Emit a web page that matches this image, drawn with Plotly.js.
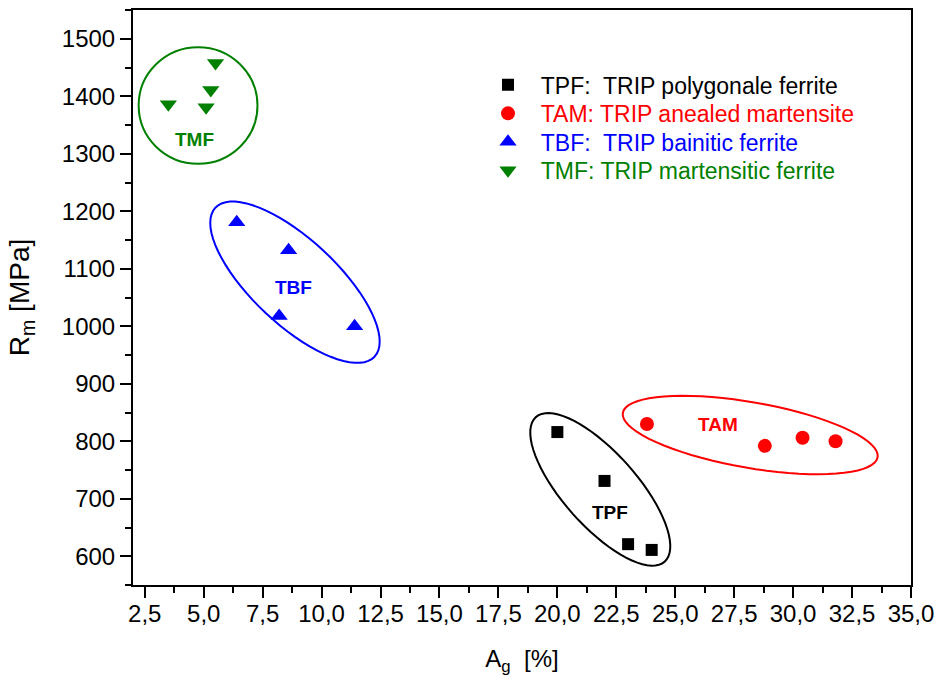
<!DOCTYPE html>
<html>
<head>
<meta charset="utf-8">
<script src="https://cdn.plot.ly/plotly-3.0.1.min.js"></script>
<style>html,body{margin:0;padding:0;background:#fff;}#chart{width:939px;height:681px;}</style>
</head>
<body>
<div id="chart"></div>
<script>
// ---- data ----
const tpfX = [20.0, 22.0, 23.0, 24.0];
const tpfY = [816, 731, 621, 611];
const tamX = [23.8, 28.8, 30.4, 31.8];
const tamY = [830, 792, 806, 800];
const tbfX = [6.4, 8.6, 8.2, 11.4];
const tbfY = [1181, 1132, 1018, 1000];
const tmfX = [3.5, 5.1, 5.3, 5.5];
const tmfY = [1386, 1381, 1411, 1458];

const seriesNames = [
  '\u00a0\u00a0TPF:  TRIP polygonale ferrite',
  '\u00a0\u00a0TAM: TRIP anealed martensite',
  '\u00a0\u00a0TBF:  TRIP bainitic ferrite',
  '\u00a0\u00a0TMF: TRIP martensitic ferrite'
];
const seriesColors = ['#000000', '#ff0000', '#0000ff', '#008000'];
const groupLabels = ['TPF', 'TAM', 'TBF', 'TMF'];

const xRange = [2, 35];
const yRange = [550, 1550];

// ---- layout geometry ----
const W = 939, H = 681;
const M = {l: 133, r: 28, t: 10, b: 96};
const plotW = W - M.l - M.r, plotH = H - M.t - M.b;
const pxPerX = plotW / (xRange[1] - xRange[0]);
const pxPerY = plotH / (yRange[1] - yRange[0]);

// group outline ellipses: centre in data units, semi-axes in px, tilt in degrees
function ellipsePath(cx, cy, a, b, deg) {
  const th = deg * Math.PI / 180;
  let d = '';
  for (let i = 0; i <= 72; i++) {
    const t = i / 72 * 2 * Math.PI;
    const dx = a * Math.cos(t) * Math.cos(th) - b * Math.sin(t) * Math.sin(th);
    const dy = a * Math.cos(t) * Math.sin(th) + b * Math.sin(t) * Math.cos(th);
    const x = cx + dx / pxPerX;
    const y = cy - dy / pxPerY;
    d += (i === 0 ? 'M' : 'L') + x.toFixed(4) + ',' + y.toFixed(3);
  }
  return d + 'Z';
}

const font = 'Liberation Sans, Arial, sans-serif';
const symbols = ['square', 'circle', 'triangle-up', 'triangle-down'];
const sizes = [12, 14, 15, 15];
const xs = [tpfX, tamX, tbfX, tmfX];
const ys = [tpfY, tamY, tbfY, tmfY];
const legendIds = ['legend', 'legend2', 'legend3', 'legend4'];

const traces = xs.map((x, i) => ({
  type: 'scatter', mode: 'markers', x: x, y: ys[i],
  name: '<span style="color:' + seriesColors[i] + '">' + seriesNames[i] + '</span>',
  legend: legendIds[i],
  marker: {symbol: symbols[i], size: sizes[i], color: seriesColors[i], line: {width: 0}}
}));

const shapes = [
  {type: 'path', xref: 'x', yref: 'y', path: ellipsePath(21.82, 716.3, 96.8, 36.8, 48.3), line: {color: '#000000', width: 2}},
  {type: 'path', xref: 'x', yref: 'y', path: ellipsePath(28.18, 810.8, 129.3, 32.8, 9.9), line: {color: '#ff0000', width: 2}},
  {type: 'path', xref: 'x', yref: 'y', path: ellipsePath(8.87, 1076.6, 109, 42.5, 43.1), line: {color: '#0000ff', width: 2}},
  {type: 'circle', xref: 'x', yref: 'y', x0: 2.24, x1: 7.28, y0: 1282.6, y1: 1485.2, line: {color: '#008000', width: 2}}
];

const labelPos = [[22.23, 675.5], [26.81, 828.6], [8.79, 1068], [4.60, 1324]];
const annotations = labelPos.map((p, i) => ({
  x: p[0], y: p[1], xref: 'x', yref: 'y', text: '<b>' + groupLabels[i] + '</b>',
  showarrow: false, font: {family: font, size: 19, color: seriesColors[i]}
}));

const axisCommon = {
  showline: true, linecolor: '#000', linewidth: 2, mirror: true,
  ticks: 'outside', ticklen: 11, tickwidth: 2, tickcolor: '#000',
  showgrid: false, zeroline: false,
  tickfont: {family: font, size: 24, color: '#000'}
};

const legendRowsY = [0.9071, 0.8576, 0.8080, 0.7584];
function legendBox(y) {
  return {x: 0.4563, y: y, xanchor: 'left', yanchor: 'top', bgcolor: 'rgba(0,0,0,0)',
          font: {family: font, size: 23}, itemwidth: 30};
}

const layout = {
  width: W, height: H, margin: M,
  paper_bgcolor: '#fff', plot_bgcolor: '#fff',
  separators: ',.',
  font: {family: font, color: '#000'},
  showlegend: true,
  legend: legendBox(legendRowsY[0]),
  legend2: legendBox(legendRowsY[1]),
  legend3: legendBox(legendRowsY[2]),
  legend4: legendBox(legendRowsY[3]),
  xaxis: Object.assign({}, axisCommon, {
    range: xRange, dtick: 2.5, tick0: 2.5, tickformat: '.1f', ticklabelstandoff: -5,
    minor: {ticks: 'outside', ticklen: 6, tickwidth: 2, tickcolor: '#000', dtick: 1.25, tick0: 2.5},
    title: {text: 'A<sub>g</sub>\u00a0\u00a0[%]', font: {family: font, size: 24}, standoff: 24}
  }),
  yaxis: Object.assign({}, axisCommon, {
    range: yRange, dtick: 100, tick0: 600,
    minor: {ticks: 'outside', ticklen: 6, tickwidth: 2, tickcolor: '#000', dtick: 50},
    title: {text: 'R<sub>m</sub> [MPa]', font: {family: font, size: 28}, standoff: 24}
  }),
  shapes: shapes,
  annotations: annotations
};

Plotly.newPlot('chart', traces, layout, {displayModeBar: false, staticPlot: true});
</script>
</body>
</html>
